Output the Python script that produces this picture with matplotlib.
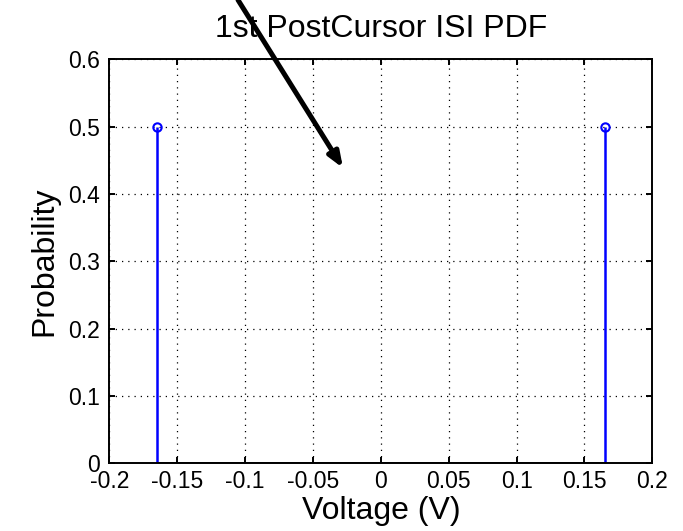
import matplotlib
matplotlib.use("Agg")
import matplotlib.pyplot as plt
import numpy as np

# ISI levels of the 1st post-cursor and their probabilities
voltage = [-0.165, 0.165]
probability = [0.5, 0.5]

xticks = [-0.2, -0.15, -0.1, -0.05, 0, 0.05, 0.1, 0.15, 0.2]
xticklabels = ["-0.2", "-0.15", "-0.1", "-0.05", "0", "0.05", "0.1", "0.15", "0.2"]
yticks = [0, 0.1, 0.2, 0.3, 0.4, 0.5, 0.6]
yticklabels = ["0", "0.1", "0.2", "0.3", "0.4", "0.5", "0.6"]

plt.rcParams['font.family'] = ['Liberation Sans', 'DejaVu Sans']

fig = plt.figure(figsize=(6.83, 5.31), dpi=100)
ax = fig.add_axes([0.1603, 0.1275, 0.7947, 0.7605])

markerline, stemlines, baseline = ax.stem(voltage, probability)
plt.setp(stemlines, color='blue', linewidth=1.8)
plt.setp(markerline, color='blue', marker='o', markersize=6,
         markerfacecolor='none', markeredgewidth=1.5)
plt.setp(baseline, color='black', linewidth=1.4)

ax.set_xlim(-0.2, 0.2)
ax.set_ylim(0, 0.6)
ax.set_xticks(xticks)
ax.set_xticklabels(xticklabels)
ax.set_yticks(yticks)
ax.set_yticklabels(yticklabels)

ax.grid(True, linestyle=(0, (1, 4)), color='black', linewidth=0.9)
ax.tick_params(direction='in', length=4, width=1.4, labelsize=16.5,
               top=True, right=True)
ax.tick_params(axis='x', pad=5)
ax.tick_params(axis='y', pad=7)
for s in ax.spines.values():
    s.set_linewidth(1.4)

ax.set_title("1st PostCursor ISI PDF", fontsize=23, pad=16)
ax.set_xlabel("Voltage (V)", fontsize=23, labelpad=2)
ax.set_ylabel("Probability", fontsize=23, labelpad=6)

ax.annotate("", xy=(0.5022, 0.6836), xycoords='figure fraction',
            xytext=(0.3485, 1.0), textcoords='figure fraction',
            arrowprops=dict(arrowstyle='-|>,head_length=0.9,head_width=0.35',
                            color='black', lw=3.6, shrinkA=0, shrinkB=0),
            annotation_clip=False)

fig.savefig("out.png", dpi=100)
